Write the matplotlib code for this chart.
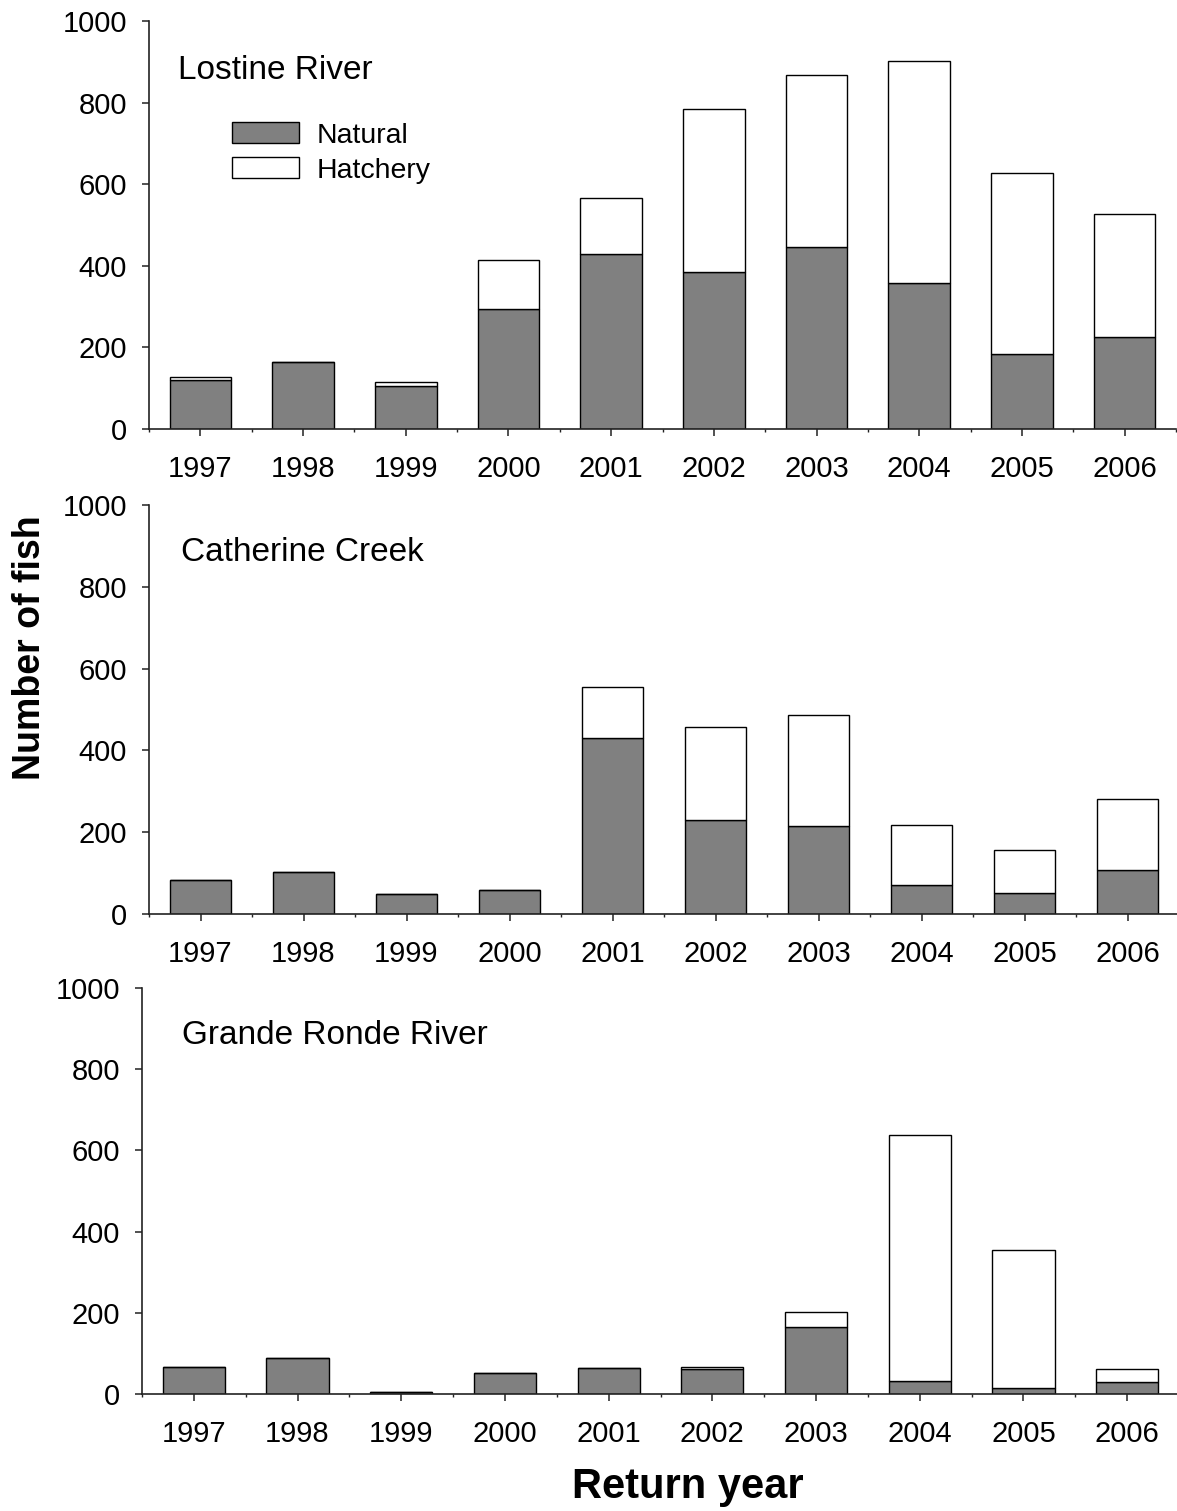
import numpy as np
import matplotlib
matplotlib.use("Agg")
import matplotlib.pyplot as plt
from matplotlib.patches import Patch

plt.rcParams['font.family'] = ['Liberation Sans', 'DejaVu Sans']

years = ['1997', '1998', '1999', '2000', '2001', '2002', '2003', '2004', '2005', '2006']

# natural / hatchery counts per river
lostine_nat = [120, 165, 105, 293, 430, 384, 446, 357, 185, 226]
lostine_hat = [8, 0, 10, 122, 136, 400, 422, 546, 443, 302]

catherine_nat = [83, 102, 48, 58, 430, 230, 214, 70, 51, 107]
catherine_hat = [0, 0, 0, 0, 126, 226, 272, 147, 105, 175]

grande_nat = [67, 88, 4, 52, 63, 62, 164, 31, 14, 29]
grande_hat = [0, 0, 0, 0, 0, 5, 37, 607, 340, 33]

rivers = ['Lostine River', 'Catherine Creek', 'Grande Ronde River']
natural = [lostine_nat, catherine_nat, grande_nat]
hatchery = [lostine_hat, catherine_hat, grande_hat]

W, H = 1177, 1511
fig = plt.figure(figsize=(W / 100, H / 100), dpi=100)

# axes boxes in pixels: left, right, top, bottom
boxes = [(149, 1176, 21, 429), (149, 1179, 505, 914), (142, 1179, 988, 1394)]
title_pos = [(0.028, 0.878), (0.031, 0.883), (0.0386, 0.884)]

x = np.arange(len(years))
for i, (l, r, t, b) in enumerate(boxes):
    ax = fig.add_axes([l / W, 1 - b / H, (r - l) / W, (b - t) / H])
    ax.bar(x, natural[i], width=0.6, color='#808080', edgecolor='black', linewidth=1.0)
    ax.bar(x, hatchery[i], width=0.6, bottom=natural[i], color='white',
           edgecolor='black', linewidth=1.0)
    ax.set_xlim(-0.5, 9.5)
    ax.set_ylim(0, 1000)
    ax.set_yticks(np.arange(0, 1001, 200))
    ax.set_xticks(x)
    ax.set_xticklabels(years)
    ax.set_xticks(np.arange(-0.5, 10, 1), minor=True)
    for s in ['top', 'right']:
        ax.spines[s].set_visible(False)
    for s in ['left', 'bottom']:
        ax.spines[s].set_linewidth(1.2)
        ax.spines[s].set_color('#222222')
    ax.tick_params(axis='y', direction='out', length=5, width=1.1, pad=11,
                   labelsize=21, color='#222222')
    ax.tick_params(axis='x', which='major', direction='out', length=5, width=1.1,
                   pad=14, labelsize=21, color='#222222')
    ax.tick_params(axis='x', which='minor', direction='out', length=2.5, width=1.0,
                   color='#222222')
    ax.text(title_pos[i][0], title_pos[i][1], rivers[i], transform=ax.transAxes,
            fontsize=24, va='center', ha='left')
    if i == 0:
        handles = [Patch(facecolor='#808080', edgecolor='black', linewidth=1.0, label='Natural'),
                   Patch(facecolor='white', edgecolor='black', linewidth=1.0, label='Hatchery')]
        ax.legend(handles=handles, loc='upper left', bbox_to_anchor=(0.0805, 0.752),
                  frameon=False, fontsize=20.5, handlelength=2.35, handleheight=0.77,
                  handletextpad=0.62, labelspacing=0.3, borderpad=0, borderaxespad=0)

fig.text(30 / W, 1 - 648 / H, 'Number of fish', rotation=90, fontsize=27,
         fontweight='bold', ha='center', va='center')
fig.text(688 / W, 1 - 1487 / H, 'Return year', fontsize=30,
         fontweight='bold', ha='center', va='center')

fig.savefig('out.png', dpi=100)
